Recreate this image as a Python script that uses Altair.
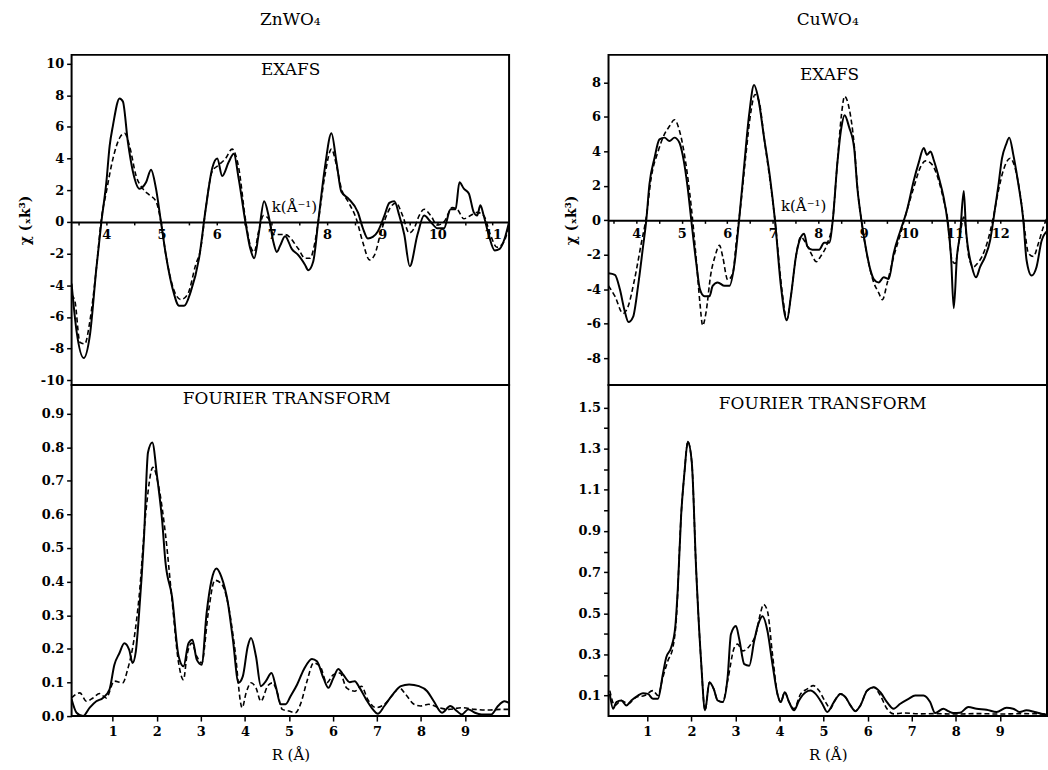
import altair as alt
import pandas as pd

FONT = "DejaVu Serif"

# ---------------- ZnWO4 : EXAFS ----------------
zn_exafs_k = [3.37, 3.46, 3.59, 3.70, 3.82, 3.91, 4.00, 4.06, 4.12, 4.24, 4.30, 4.39, 4.48, 4.60, 4.72, 4.81, 4.90, 4.99,
              5.08, 5.20, 5.32, 5.41, 5.53, 5.68, 5.80, 5.92, 6.01, 6.10, 6.22, 6.31, 6.40, 6.52, 6.61, 6.68, 6.76, 6.86, 6.94,
              7.03, 7.09, 7.15, 7.24, 7.36, 7.48, 7.60, 7.66, 7.75, 7.84, 7.96, 8.08, 8.17, 8.26, 8.38, 8.56, 8.65, 8.74, 8.83, 8.92,
              9.04, 9.13, 9.22, 9.31, 9.40, 9.50, 9.64, 9.76, 9.88, 10.00, 10.12, 10.24, 10.33, 10.40, 10.48, 10.57, 10.66, 10.72,
              10.78, 10.84, 10.93, 11.04, 11.13, 11.22, 11.30]
zn_exafs_exp = [-3.9, -6.9, -8.6, -7.2, -2.9, 0.0, 2.5, 4.8, 6.1, 7.8, 7.6, 5.05, 3.2, 2.1, 2.5, 3.3, 2.1, 0.0,
                -2.1, -4.2, -5.3, -5.3, -4.4, -2.3, 0.8, 3.4, 4.0, 2.9, 3.8, 4.3, 2.7, 0.0, -1.7, -2.3, -0.8, 1.3, 0.4,
                -1.3, -1.9, -1.5, -0.9, -1.7, -2.1, -2.7, -3.05, -2.5, 0.0, 3.4, 5.6, 3.8, 1.9, 1.5, 0.6, -0.4, -1.05, -0.95, -0.6,
                0.4, 1.2, 1.3, 0.4, -0.8, -2.8, -0.8, 0.4, 0.0, -0.4, -0.4, 0.8, 0.8, 2.5, 2.1, 1.8, 0.6, 0.4,
                1.05, 0.4, -0.8, -1.8, -1.7, -1.05, 0.0]
zn_exafs_k_fit = [3.37, 3.43, 3.52, 3.61, 3.70, 3.82, 3.91, 4.00, 4.12, 4.24, 4.33, 4.42, 4.54, 4.66, 4.78, 4.90, 4.99,
                  5.08, 5.26, 5.35, 5.47, 5.62, 5.71, 5.80, 5.92, 6.04, 6.16, 6.28, 6.40, 6.52, 6.61, 6.68, 6.76, 6.85, 6.94,
                  7.03, 7.24, 7.48, 7.60, 7.69, 7.78, 7.84, 7.96, 8.08, 8.17, 8.26, 8.38, 8.53, 8.65, 8.77, 8.86, 8.98,
                  9.13, 9.25, 9.37, 9.49, 9.58, 9.67, 9.76, 9.88, 10.00, 10.12, 10.27, 10.36, 10.48, 10.60, 10.72, 10.84, 10.96,
                  11.08, 11.20, 11.30]
zn_exafs_fit = [-4.6, -5.0, -7.6, -7.7, -6.3, -2.9, 0.2, 1.9, 4.0, 5.3, 5.6, 4.8, 2.9, 2.1, 1.7, 1.3, 0.0,
                -2.1, -4.6, -4.9, -4.6, -2.7, -1.7, 0.8, 3.2, 3.6, 4.0, 4.6, 3.4, 0.2, -1.5, -1.9, -0.6, 0.4, 0.2,
                -0.8, -0.8, -1.7, -2.3, -2.3, -1.3, 0.0, 2.9, 4.6, 3.6, 2.1, 1.3, 0.2, -1.3, -2.4, -2.1, -0.6,
                0.8, 1.2, 0.4, -0.7, -0.4, 0.4, 0.8, 0.4, -0.2, 0.0, 0.9, 0.8, 0.2, 0.4, 0.6, 0.4, -0.8,
                -1.6, -1.3, -0.2]

# ---------------- ZnWO4 : Fourier transform ----------------
zn_ft_r = [0.065, 0.178, 0.327, 0.477, 0.626, 0.776, 0.925, 1.037, 1.150, 1.262, 1.374, 1.449, 1.523, 1.598, 1.710, 1.800, 1.897,
           2.009, 2.121, 2.196, 2.346, 2.495, 2.607, 2.720, 2.809, 2.907, 3.019, 3.131, 3.243, 3.355, 3.467, 3.617, 3.729, 3.856, 3.953,
           4.065, 4.140, 4.252, 4.364, 4.477, 4.604, 4.701, 4.813, 4.925, 5.037, 5.187, 5.336, 5.523, 5.636, 5.785, 5.897,
           6.009, 6.121, 6.234, 6.383, 6.495, 6.607, 6.757, 6.907, 7.019, 7.168, 7.355, 7.542, 7.729, 7.953,
           8.140, 8.290, 8.477, 8.664, 8.813, 8.925, 9.075, 9.224, 9.374, 9.598, 9.748, 9.897, 10.0]
zn_ft_exp = [0.05, 0.01, 0.0, 0.025, 0.044, 0.054, 0.079, 0.153, 0.187, 0.217, 0.197, 0.158, 0.192, 0.306, 0.533, 0.784, 0.814,
             0.71, 0.582, 0.459, 0.355, 0.178, 0.148, 0.217, 0.227, 0.168, 0.153, 0.306, 0.404, 0.439, 0.414, 0.335, 0.227, 0.099, 0.118,
             0.207, 0.232, 0.178, 0.089, 0.104, 0.128, 0.089, 0.035, 0.035, 0.059, 0.094, 0.138, 0.170, 0.163, 0.113, 0.084,
             0.113, 0.140, 0.123, 0.101, 0.104, 0.084, 0.049, 0.020, 0.007, 0.030, 0.064, 0.089, 0.094, 0.089,
             0.074, 0.044, 0.01, 0.03, 0.015, 0.005, 0.02, 0.01, 0.005, 0.005, 0.03, 0.044, 0.039]
zn_ft_r_fit = [0.065, 0.252, 0.402, 0.551, 0.701, 0.850, 1.037, 1.224, 1.336, 1.486, 1.598, 1.748, 1.912,
               2.047, 2.196, 2.346, 2.495, 2.607, 2.682, 2.794, 2.907, 3.019, 3.168, 3.318, 3.467, 3.617, 3.766, 3.938,
               4.028, 4.140, 4.252, 4.364, 4.514, 4.626, 4.738, 4.850, 5.000, 5.150, 5.262, 5.411, 5.561, 5.710, 5.860,
               6.009, 6.159, 6.308, 6.495, 6.645, 6.794, 6.981, 7.168, 7.393, 7.505, 7.654, 7.841, 7.991,
               8.178, 8.402, 8.626, 8.925, 9.224, 9.523, 9.822, 10.0]
zn_ft_fit = [0.054, 0.069, 0.044, 0.054, 0.067, 0.054, 0.104, 0.099, 0.138, 0.232, 0.355, 0.602, 0.74,
             0.68, 0.542, 0.345, 0.158, 0.108, 0.178, 0.217, 0.178, 0.158, 0.306, 0.404, 0.394, 0.335, 0.207, 0.025,
             0.069, 0.099, 0.084, 0.044, 0.089, 0.099, 0.069, 0.02, 0.015, 0.01, 0.035, 0.104, 0.158, 0.148, 0.099,
             0.123, 0.128, 0.084, 0.074, 0.089, 0.049, 0.025, 0.035, 0.069, 0.084, 0.064, 0.035, 0.03,
             0.035, 0.025, 0.02, 0.025, 0.02, 0.018, 0.02, 0.02]

# ---------------- CuWO4 : EXAFS ----------------
cu_exafs_k = [3.39, 3.53, 3.64, 3.74, 3.83, 3.93, 4.04, 4.15, 4.22, 4.29, 4.40, 4.51, 4.62, 4.73, 4.84, 4.95,
              5.02, 5.13, 5.21, 5.32, 5.40, 5.50, 5.61, 5.68, 5.79, 5.94, 6.05, 6.16, 6.26, 6.37, 6.48, 6.59, 6.68, 6.81, 6.94,
              7.05, 7.18, 7.31, 7.40, 7.51, 7.62, 7.69, 7.76, 7.87, 8.02, 8.13, 8.24, 8.32, 8.42, 8.51, 8.58, 8.68, 8.79, 8.86, 8.95,
              9.04, 9.15, 9.22, 9.33, 9.44, 9.55, 9.66, 9.81, 9.95, 10.10, 10.21, 10.32, 10.39, 10.47, 10.54, 10.65, 10.76, 10.84,
              10.92, 10.98, 11.05, 11.12, 11.20, 11.25, 11.38, 11.47, 11.56, 11.67, 11.78, 11.85, 11.96,
              12.04, 12.13, 12.20, 12.29, 12.40, 12.51, 12.58, 12.69, 12.80, 12.91, 13.04]
cu_exafs_exp = [-3.07, -3.16, -4.0, -5.2, -5.9, -5.6, -3.8, -1.5, 0.0, 2.1, 3.6, 4.7, 4.8, 4.6, 4.8, 4.5,
                3.8, 1.9, 0.0, -2.5, -4.0, -4.4, -4.4, -3.8, -3.6, -3.8, -3.8, -2.5, 0.0, 3.1, 6.1, 7.85, 7.1, 4.8, 2.5,
                0.0, -3.8, -5.8, -4.4, -2.1, -0.96, -0.77, -1.5, -1.7, -1.7, -1.3, -1.3, 0.0, 3.3, 5.4, 6.1, 5.4, 4.2, 1.9, 0.0,
                -1.5, -2.9, -3.4, -3.6, -3.3, -3.4, -1.9, -0.57, 0.57, 2.3, 3.35, 4.2, 3.8, 4.0, 3.5, 2.5, 1.3, 0.0,
                -2.1, -5.1, -2.1, -0.77, 1.7, -0.57, -2.7, -3.3, -2.7, -2.1, -1.15, 0.0, 2.0,
                3.6, 4.4, 4.8, 3.8, 2.1, 0.0, -2.3, -3.2, -2.7, -1.2, -0.6]
cu_exafs_k_fit = [3.39, 3.53, 3.71, 3.82, 3.96, 4.11, 4.22, 4.33, 4.48, 4.62, 4.73, 4.84, 4.95,
                  5.06, 5.17, 5.24, 5.32, 5.40, 5.46, 5.53, 5.64, 5.73, 5.83, 5.90, 6.01, 6.12, 6.21, 6.30, 6.41, 6.52, 6.61, 6.70, 6.81,
                  7.05, 7.21, 7.31, 7.41, 7.51, 7.62, 7.73, 7.84, 7.96, 8.05, 8.20, 8.31, 8.42, 8.51, 8.58, 8.68, 8.79, 8.87, 8.95,
                  9.08, 9.22, 9.33, 9.41, 9.52, 9.66, 9.81, 9.95, 10.10, 10.25, 10.36, 10.50, 10.65, 10.76, 10.85, 10.94,
                  11.01, 11.11, 11.20, 11.31, 11.41, 11.50, 11.60, 11.71, 11.85, 11.96,
                  12.07, 12.22, 12.36, 12.47, 12.55, 12.62, 12.73, 12.84, 12.95, 13.04]
cu_exafs_fit = [-3.8, -4.4, -5.4, -5.0, -3.45, -1.34, 0.19, 2.5, 4.0, 5.0, 5.46, 5.84, 5.2,
                3.8, 1.7, 0.0, -2.3, -4.8, -6.1, -5.4, -3.1, -2.1, -1.44, -2.1, -3.45, -3.1, -0.96, 0.96, 3.8, 6.3, 7.3, 6.9, 4.8,
                0.0, -4.2, -5.75, -4.2, -2.1, -0.96, -1.34, -1.9, -2.4, -2.1, -1.34, -0.19, 3.3, 6.1, 7.2, 6.5, 4.4, 1.7, 0.0,
                -2.1, -3.6, -4.2, -4.6, -3.6, -2.1, -0.77, 0.57, 1.9, 3.1, 3.45, 3.25, 2.3, 1.15, 0.0, -2.3,
                -2.5, -0.96, 0.19, -2.1, -2.7, -2.5, -2.1, -1.34, 0.19, 1.7,
                2.9, 3.6, 2.7, 0.96, -0.77, -1.9, -2.1, -1.34, -0.38, 0.19]

# ---------------- CuWO4 : Fourier transform ----------------
cu_ft_r = [0.149, 0.224, 0.299, 0.412, 0.525, 0.638, 0.789, 0.902, 1.015, 1.128, 1.241, 1.354, 1.429, 1.542, 1.633, 1.693, 1.768,
           1.844, 1.919, 2.009, 2.107, 2.220, 2.311, 2.409, 2.507, 2.597, 2.710, 2.823, 2.898, 3.011, 3.087, 3.200, 3.313, 3.426,
           3.516, 3.614, 3.727, 3.840, 3.953, 4.028, 4.119, 4.217, 4.330, 4.443, 4.593, 4.706, 4.819, 4.970, 5.083, 5.234, 5.384,
           5.497, 5.610, 5.723, 5.836, 5.987, 6.138, 6.288, 6.439, 6.589, 6.740, 6.928, 7.079, 7.267, 7.418, 7.531, 7.719, 7.832,
           7.945, 8.096, 8.284, 8.473, 8.699, 8.925, 9.151, 9.302, 9.452, 9.603, 9.791, 9.942, 10.08]
cu_ft_exp = [0.108, 0.036, 0.068, 0.076, 0.052, 0.076, 0.1, 0.111, 0.108, 0.084, 0.084, 0.205, 0.285, 0.333, 0.43, 0.623, 0.977,
             1.186, 1.334, 1.235, 0.72, 0.269, 0.028, 0.164, 0.132, 0.076, 0.068, 0.189, 0.398, 0.438, 0.374, 0.253, 0.245, 0.366,
             0.446, 0.486, 0.414, 0.253, 0.108, 0.068, 0.116, 0.068, 0.028, 0.076, 0.116, 0.124, 0.108, 0.06, 0.02, 0.068, 0.108,
             0.092, 0.052, 0.024, 0.052, 0.124, 0.14, 0.116, 0.068, 0.036, 0.06, 0.084, 0.1, 0.1, 0.068, 0.015, 0.036, 0.024,
             0.015, 0.016, 0.044, 0.036, 0.031, 0.02, 0.04, 0.036, 0.02, 0.028, 0.02, 0.011, 0.007]
cu_ft_r_fit = [0.149, 0.262, 0.412, 0.563, 0.751, 0.940, 1.128, 1.241, 1.354, 1.467, 1.580, 1.655, 1.768, 1.844, 1.919,
               2.009, 2.107, 2.220, 2.311, 2.409, 2.507, 2.597, 2.710, 2.823, 2.974, 3.049, 3.162, 3.350, 3.463, 3.561, 3.637,
               3.727, 3.840, 3.953, 4.028, 4.119, 4.217, 4.330, 4.480, 4.631, 4.766, 4.895, 5.045, 5.158, 5.234, 5.384, 5.497,
               5.610, 5.723, 5.836, 5.987, 6.138, 6.288, 6.439, 6.589, 6.815, 7.192, 7.5, 8.0, 8.5, 9.0, 9.5, 10.08]
cu_ft_fit = [0.124, 0.052, 0.076, 0.06, 0.092, 0.1, 0.124, 0.1, 0.189, 0.269, 0.333, 0.462, 0.977, 1.186, 1.334,
             1.235, 0.72, 0.269, 0.028, 0.164, 0.132, 0.076, 0.068, 0.172, 0.333, 0.35, 0.317, 0.35, 0.398, 0.494, 0.543,
             0.51, 0.301, 0.108, 0.068, 0.116, 0.068, 0.036, 0.108, 0.132, 0.148, 0.124, 0.068, 0.036, 0.068, 0.108, 0.092,
             0.052, 0.024, 0.052, 0.124, 0.14, 0.1, 0.036, 0.011, 0.015, 0.011, 0.012, 0.01, 0.012, 0.01, 0.012, 0.01]

# ---------------- axis ranges / ticks ----------------
zn_k_domain = [3.37, 11.30]
zn_chi_domain = [-10.3, 10.55]
zn_r_domain = [0.065, 10.0]
zn_ft_domain = [0.0, 0.985]
cu_k_domain = [3.39, 13.03]
cu_chi_domain = [-9.55, 9.6]
cu_r_domain = [0.12, 10.07]
cu_ft_domain = [0.0, 1.61]

zn_k_ticks = [3.5 + 0.5 * i for i in range(16)]
cu_k_ticks = [3.5 + 0.5 * i for i in range(19)]
r_ticks = [1, 2, 3, 4, 5, 6, 7, 8, 9]
zn_chi_ticks = [-10, -8, -6, -4, -2, 0, 2, 4, 6, 8, 10]
cu_chi_ticks = [-8, -6, -4, -2, 0, 2, 4, 6, 8]
zn_ft_ticks = [0.0, 0.1, 0.2, 0.3, 0.4, 0.5, 0.6, 0.7, 0.8, 0.9]
cu_ft_ticks = [0.1, 0.2, 0.3, 0.4, 0.5, 0.6, 0.7, 0.8, 0.9, 1.0, 1.1, 1.2, 1.3, 1.4, 1.5]

# annotations (data coordinates)
zn_top_notes = {"x": [7.34], "y": [9.6], "t": ["EXAFS"]}
zn_k_note = {"x": [7.41], "y": [0.95], "t": ["k(Å⁻¹)"]}
zn_bot_notes = {"x": [4.95], "y": [0.944], "t": ["FOURIER TRANSFORM"]}
cu_top_notes = {"x": [8.25], "y": [8.45], "t": ["EXAFS"]}
cu_k_note = {"x": [7.68], "y": [0.86], "t": ["k(Å⁻¹)"]}
cu_bot_notes = {"x": [4.98], "y": [1.515], "t": ["FOURIER TRANSFORM"]}

W_L, W_R = 440, 441
H_TOP, H_BOT = 332, 333

LBL = dict(labelFont=FONT, labelFontWeight="bold", labelFontSize=13, labelColor="black",
           tickColor="black", grid=False, labelFlush=False, labelOverlap=False)


def zero_axis(ticks, ydom, h):
    zero_px = h * ydom[1] / (ydom[1] - ydom[0])
    return alt.Axis(orient="bottom", offset=-(h - zero_px), values=ticks,
                    labelExpr="datum.value % 1 == 0 ? datum.value + '' : ''",
                    tickSize=3, tickWidth=1.5, domain=True, domainColor="black", domainWidth=2,
                    labelPadding=4, title=None, **LBL)


def r_axis():
    return alt.Axis(orient="bottom", values=r_ticks, tickSize=5, tickWidth=1.5, domain=False,
                    labelPadding=5, title="R (Å)", titleFont=FONT, titleFontSize=15,
                    titleFontWeight="normal", titleColor="black", titlePadding=9, **LBL)


def chi_axis(ticks):
    return alt.Axis(orient="left", values=ticks, labelExpr="datum.value + ''", tickSize=5, tickWidth=1.5,
                    domain=False, labelPadding=3, title="χ (ₓk³)", titleFont=FONT, titleFontSize=14,
                    titleFontWeight="bold", titleColor="black", titlePadding=8, **LBL)


def ft_axis(ticks, odd_only):
    expr = ("round(datum.value*10) % 2 == 1 ? format(datum.value, '.1f') : ''" if odd_only
            else "format(datum.value, '.1f')")
    return alt.Axis(orient="left", values=ticks, labelExpr=expr, tickSize=5, tickWidth=1.5,
                    domain=False, labelPadding=3, title=None, **LBL)


def panel(xe, ye, xf, yf, xdom, ydom, w, h, xaxis, yaxis, notes, knote=None, title=None):
    xs = alt.Scale(domain=xdom, zero=False, nice=False)
    ys = alt.Scale(domain=ydom, zero=False, nice=False)
    X = alt.X("x:Q", scale=xs, axis=xaxis)
    Y = alt.Y("y:Q", scale=ys, axis=yaxis)
    exp = alt.Chart(pd.DataFrame({"x": xe, "y": ye})).mark_line(
        color="black", strokeWidth=2, interpolate="monotone", clip=True).encode(x=X, y=Y)
    fit = alt.Chart(pd.DataFrame({"x": xf, "y": yf})).mark_line(
        color="black", strokeWidth=1.6, strokeDash=[5, 3], interpolate="monotone", clip=True).encode(x=X, y=Y)
    lab = alt.Chart(pd.DataFrame(notes)).mark_text(
        font=FONT, fontSize=17, color="black", baseline="middle").encode(x=X, y=Y, text="t:N")
    layers = [exp, fit, lab]
    if knote is not None:
        layers.append(alt.Chart(pd.DataFrame(knote)).mark_text(
            font=FONT, fontSize=15, color="black", baseline="middle").encode(x=X, y=Y, text="t:N"))
    ch = alt.layer(*layers).properties(width=w, height=h)
    if title is not None:
        ch = ch.properties(title=alt.TitleParams(text=title, font=FONT, fontSize=17, fontWeight="normal",
                                                 color="black", anchor="middle", offset=26))
    return ch


zn_top = panel(zn_exafs_k, zn_exafs_exp, zn_exafs_k_fit, zn_exafs_fit, zn_k_domain, zn_chi_domain, W_L, H_TOP,
               zero_axis(zn_k_ticks, zn_chi_domain, H_TOP), chi_axis(zn_chi_ticks), zn_top_notes, zn_k_note, "ZnWO₄")
zn_bot = panel(zn_ft_r, zn_ft_exp, zn_ft_r_fit, zn_ft_fit, zn_r_domain, zn_ft_domain, W_L, H_BOT,
               r_axis(), ft_axis(zn_ft_ticks, False), zn_bot_notes)
cu_top = panel(cu_exafs_k, cu_exafs_exp, cu_exafs_k_fit, cu_exafs_fit, cu_k_domain, cu_chi_domain, W_R, H_TOP,
               zero_axis(cu_k_ticks, cu_chi_domain, H_TOP), chi_axis(cu_chi_ticks), cu_top_notes, cu_k_note, "CuWO₄")
cu_bot = panel(cu_ft_r, cu_ft_exp, cu_ft_r_fit, cu_ft_fit, cu_r_domain, cu_ft_domain, W_R, H_BOT,
               r_axis(), ft_axis(cu_ft_ticks, True), cu_bot_notes)

col1 = alt.vconcat(zn_top, zn_bot, spacing=0, bounds="flush")
col2 = alt.vconcat(cu_top, cu_bot, spacing=0, bounds="flush")

chart = alt.hconcat(col1, col2, spacing=53).properties(
    padding={"left": 17, "top": 8, "right": 0, "bottom": 0},
    background="white",
).configure_view(stroke="black", strokeWidth=2)

chart.save("out.html", embed_options={"renderer": "svg", "actions": False})
